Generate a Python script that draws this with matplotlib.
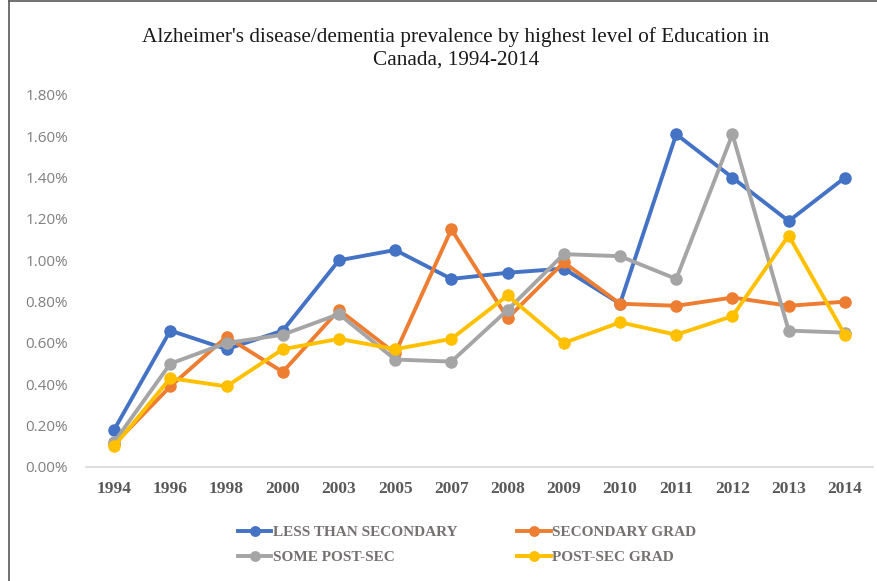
import matplotlib
matplotlib.use('Agg')
import matplotlib.pyplot as plt
from matplotlib.lines import Line2D
from matplotlib.ticker import FuncFormatter

years = ['1994', '1996', '1998', '2000', '2003', '2005', '2007',
         '2008', '2009', '2010', '2011', '2012', '2013', '2014']

less_than_secondary = [0.18, 0.66, 0.57, 0.66, 1.00, 1.05, 0.91, 0.94, 0.96, 0.79, 1.61, 1.40, 1.19, 1.40]
secondary_grad = [0.11, 0.39, 0.63, 0.46, 0.76, 0.55, 1.15, 0.72, 0.99, 0.79, 0.78, 0.82, 0.78, 0.80]
some_post_sec = [0.12, 0.50, 0.60, 0.64, 0.74, 0.52, 0.51, 0.76, 1.03, 1.02, 0.91, 1.61, 0.66, 0.65]
post_sec_grad = [0.10, 0.43, 0.39, 0.57, 0.62, 0.57, 0.62, 0.83, 0.60, 0.70, 0.64, 0.73, 1.12, 0.64]

series = [
    ('LESS THAN SECONDARY', less_than_secondary, '#4472C4'),
    ('SECONDARY GRAD', secondary_grad, '#ED7D31'),
    ('SOME POST-SEC', some_post_sec, '#A5A5A5'),
    ('POST-SEC GRAD', post_sec_grad, '#FFC000'),
]

fig = plt.figure(figsize=(8.78, 5.81), dpi=100)
ax = fig.add_axes([86 / 878, 114 / 581, 787 / 878, 372 / 581])

x = list(range(len(years)))
handles = {}
for name, vals, col in series:
    handles[name], = ax.plot(x, vals, color=col, lw=2.8, marker='o', ms=8, label=name)

ax.set_xlim(-0.5, len(years) - 0.5)
ax.set_ylim(0, 1.8)
ax.set_yticks([i * 0.2 for i in range(10)])
ax.yaxis.set_major_formatter(FuncFormatter(lambda v, p: f'{v:.2f}%'))
ax.set_xticks(x)
ax.set_xticklabels(years)

for s in ['top', 'right', 'left']:
    ax.spines[s].set_visible(False)
ax.spines['bottom'].set_color('#D9D9D9')
ax.spines['bottom'].set_linewidth(1.2)
ax.tick_params(axis='both', length=0)
ax.tick_params(axis='y', pad=13, labelcolor='#7F7F7F', labelsize=11)
ax.tick_params(axis='x', pad=10, labelcolor='#595959')
for lbl in ax.get_yticklabels():
    lbl.set_fontfamily('Open Sans')
for lbl in ax.get_xticklabels():
    lbl.set_fontfamily('Liberation Serif')
    lbl.set_fontweight('bold')
    lbl.set_fontsize(12.5)

fig.text(0.519, 0.917, "Alzheimer's disease/dementia prevalence by highest level of Education in\nCanada, 1994-2014",
         ha='center', va='center', fontfamily='Liberation Serif', fontsize=15.3, color='#1a1a1a',
         linespacing=1.25)

# matplotlib fills legend column by column, reorder so rows read like the original
order = ['LESS THAN SECONDARY', 'SOME POST-SEC', 'SECONDARY GRAD', 'POST-SEC GRAD']
leg = fig.legend([handles[n] for n in order], order, loc='center', bbox_to_anchor=(0.532, 0.062),
                 ncol=2, frameon=False,
                 prop={'family': 'Liberation Serif', 'weight': 'bold', 'size': 11},
                 handlelength=2.2, handletextpad=0.1, columnspacing=3.9, labelspacing=0.72,
                 markerscale=0.85)
for t in leg.get_texts():
    t.set_color('#767171')

# figure border on left and top
fig.add_artist(Line2D([9.5 / 878, 9.5 / 878], [0, 1 - 1 / 581], color='#595959', lw=1.2,
                      transform=fig.transFigure))
fig.add_artist(Line2D([9.5 / 878, 1], [1 - 1 / 581, 1 - 1 / 581], color='#595959', lw=1.2,
                      transform=fig.transFigure))

fig.savefig('out.png', dpi=100)
